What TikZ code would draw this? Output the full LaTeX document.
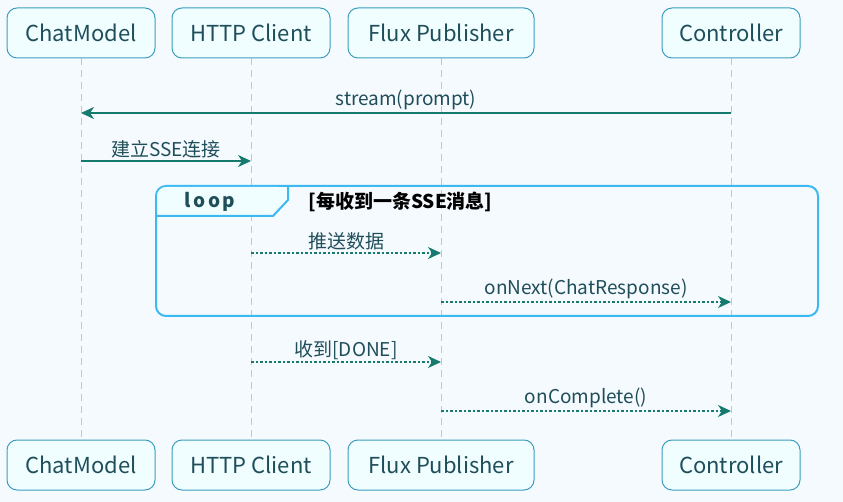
\documentclass[tikz,border=0pt]{standalone}
\usepackage{fontspec}
\setmainfont{Noto Sans CJK SC}
\usetikzlibrary{arrows.meta}
\definecolor{bg}{HTML}{F5FAFE}
\definecolor{boxf}{HTML}{F0FEFF}
\definecolor{boxd}{HTML}{3D9EC0}
\definecolor{txt}{HTML}{1F4E5A}
\definecolor{arr}{HTML}{167A6E}
\definecolor{loopc}{HTML}{3BB9F0}
\begin{document}
\begin{tikzpicture}[x=1pt,y=-1pt,
  part/.style={draw=boxd,line width=1pt,fill=boxf,rounded corners=10pt,minimum height=50pt,text=txt,font=\fontsize{22}{24}\selectfont,inner xsep=0pt},
  life/.style={draw=gray!45,dash pattern=on 7pt off 5pt,line width=0.7pt},
  msg/.style={draw=arr,line width=1.6pt,-{Stealth[length=13pt,width=12pt,inset=4pt]}},
  dmsg/.style={msg,dash pattern=on 2.5pt off 2pt,line width=1.4pt},
  lab/.style={text=txt,font=\fontsize{19}{21}\selectfont,above,inner sep=2pt}]
\fill[bg] (0,0) rectangle (843,502);
\foreach \n/\x/\w/\t in {a/81/148/ChatModel,b/251/158/HTTP Client,c/441/186/Flux Publisher,d/731/138/Controller}{
  \draw[life] (\x,58) -- (\x,440);
  \node[part,minimum width=\w pt] (\n1) at (\x,33) {\t};
  \node[part,minimum width=\w pt] (\n2) at (\x,465) {\t};
}
\coordinate (a1) at (81,113); \coordinate (d1) at (731,113);
\draw[msg] (d1) -- node[lab]{stream(prompt)} (a1);
\coordinate (a2) at (81,161); \coordinate (b2) at (251,161);
\draw[msg] (a2) -- node[lab]{建立SSE连接} (b2);
\draw[loopc,line width=2pt,rounded corners=10pt] (156,186) rectangle (818,316);
\fill[boxf,rounded corners=9pt] (157,187) -- (287,187) -- (287,200) -- (272,215) -- (157,215) -- cycle;
\draw[loopc,line width=2pt] (288,186) -- (288,200) -- (273,216) -- (156,216);
\node[text=txt,font=\bfseries\fontsize{19}{21}\selectfont] (lp) at (210,202) {l\hspace{2.5pt}o\hspace{2.5pt}o\hspace{2.5pt}p};
\node[anchor=west,font=\bfseries\fontsize{19}{21}\selectfont] (cond) at (305,202) {[每收到一条SSE消息]};
\coordinate (b3) at (251,253); \coordinate (c3) at (441,253);
\draw[dmsg] (b3) -- node[lab]{推送数据} (c3);
\coordinate (c4) at (441,302); \coordinate (d4) at (731,302);
\draw[dmsg] (c4) -- node[lab]{onNext(ChatResponse)} (d4);
\coordinate (b5) at (251,362); \coordinate (c5) at (441,362);
\draw[dmsg] (b5) -- node[lab]{收到[DONE]} (c5);
\coordinate (c6) at (441,411); \coordinate (d6) at (731,411);
\draw[dmsg] (c6) -- node[lab]{onComplete()} (d6);
\end{tikzpicture}
\end{document}
